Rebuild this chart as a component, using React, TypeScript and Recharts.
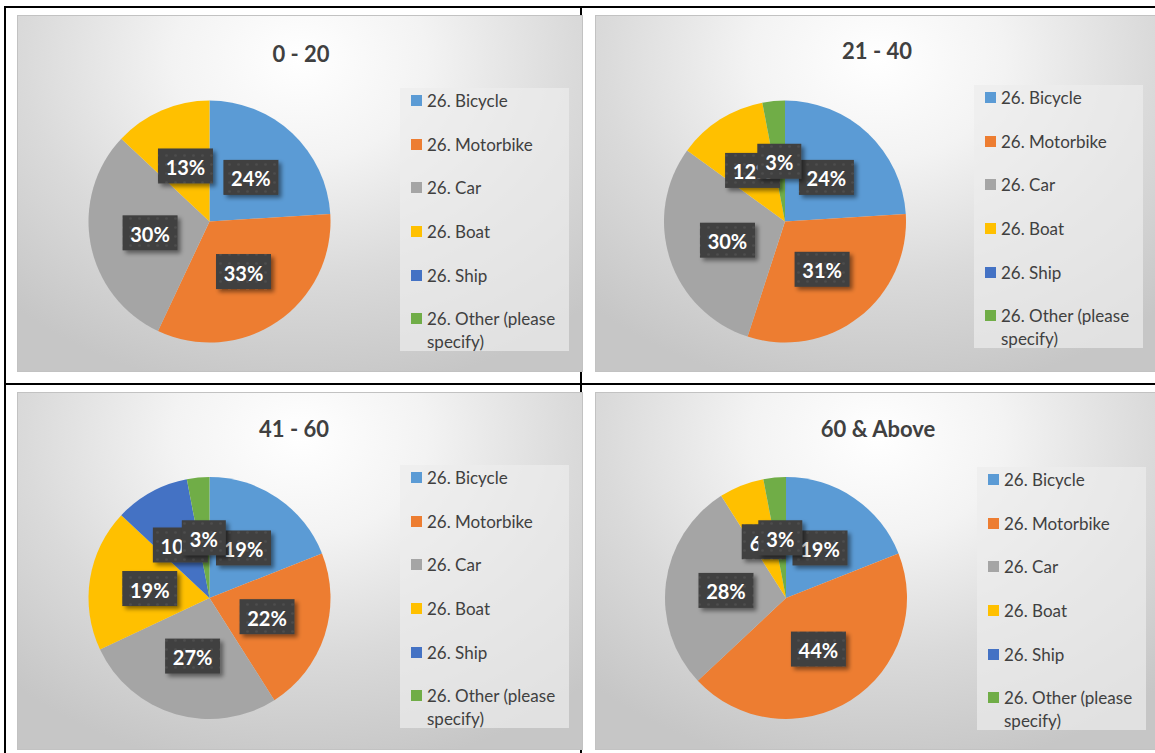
import { PieChart, Pie, Cell, Legend } from "recharts";

const categories = [
  "26. Bicycle",
  "26. Motorbike",
  "26. Car",
  "26. Boat",
  "26. Ship",
  "26. Other (please specify)",
];
const sliceColors = ["#5B9BD5", "#ED7D31", "#A5A5A5", "#FFC000", "#4472C4", "#70AD47"];

const age0to20 = [24, 33, 30, 13, 0, 0];
const age21to40 = [24, 31, 30, 12, 0, 3];
const age41to60 = [19, 22, 27, 19, 10, 3];
const age60plus = [19, 44, 28, 6, 0, 3];
const titles = ["0 - 20", "21 - 40", "41 - 60", "60 & Above"];
const groups = [age0to20, age21to40, age41to60, age60plus];

const FONT = "Lato, 'Open Sans', sans-serif";
const RAD = Math.PI / 180;

// panel placement on the page (table cells of the source document)
const panels = [
  { left: 17, top: 15, w: 566, h: 357, cx: 191.5, cy: 205.5, titleX: 283, titleY: 38, lgLeft: 382, lgTop: 72 },
  { left: 595, top: 15, w: 566, h: 357, cx: 189, cy: 205.5, titleX: 281, titleY: 35, lgLeft: 378, lgTop: 69 },
  { left: 17, top: 392, w: 566, h: 358, cx: 191.5, cy: 205, titleX: 276, titleY: 36, lgLeft: 382, lgTop: 72 },
  { left: 595, top: 392, w: 566, h: 358, cx: 190, cy: 205, titleX: 282, titleY: 36, lgLeft: 381, lgTop: 74 },
];

function renderLabel(props: any) {
  const { cx, cy, midAngle, outerRadius, value } = props;
  if (!value) return null;
  const r = outerRadius * 0.5;
  const x = cx + r * Math.cos(-midAngle * RAD);
  const y = cy + r * Math.sin(-midAngle * RAD);
  const text = `${value}%`;
  const w = text.length * 11 + 22;
  const h = 35;
  return (
    <g>
      <rect x={x - w / 2} y={y - h / 2} width={w} height={h} fill="url(#lblDots)" filter="url(#lblShadow)" />
      <text
        x={x}
        y={y + 1}
        textAnchor="middle"
        dominantBaseline="central"
        fill="#ffffff"
        fontFamily={FONT}
        fontWeight={700}
        fontSize={20}
      >
        {text}
      </text>
    </g>
  );
}

// legend keeps the series order of the source (Recharts would sort it by name)
function LegendBox() {
  return (
    <div
      style={{
        width: 169,
        height: 263,
        background: "rgba(236,236,236,0.7)",
        boxSizing: "border-box",
        paddingLeft: 11,
        paddingTop: 1,
        fontFamily: FONT,
        fontSize: 17,
        color: "#404040",
      }}
    >
      {categories.map((c, i) => (
        <div key={c} style={{ display: "flex", alignItems: "flex-start", height: 43.7, lineHeight: "23px" }}>
          <span
            style={{
              display: "inline-block",
              width: 11,
              height: 11,
              background: sliceColors[i],
              marginTop: 6,
              marginRight: 5,
              flex: "none",
            }}
          />
          <span style={{ width: 140 }}>{c}</span>
        </div>
      ))}
    </div>
  );
}

function AgePie({ idx }: { idx: number }) {
  const p = panels[idx];
  const data = categories.map((name, i) => ({ name, value: groups[idx][i] }));
  return (
    <div
      style={{
        position: "absolute",
        left: p.left,
        top: p.top,
        width: p.w,
        height: p.h,
        boxSizing: "border-box",
        border: "1px solid #c2c2c2",
        background:
          "radial-gradient(ellipse 75% 95% at 50% 12%, #ffffff 0%, #f3f3f3 30%, #dadada 65%, #c6c6c6 100%)",
      }}
    >
      <div
        style={{
          position: "absolute",
          left: p.titleX - 150,
          top: p.titleY - 14,
          width: 300,
          textAlign: "center",
          fontFamily: FONT,
          fontWeight: 700,
          fontSize: 22,
          lineHeight: "28px",
          color: "#404040",
        }}
      >
        {titles[idx]}
      </div>
      <PieChart width={p.w} height={p.h} margin={{ top: 0, right: 0, bottom: 0, left: 0 }}>
        <Pie
          data={data}
          dataKey="value"
          nameKey="name"
          cx={p.cx}
          cy={p.cy}
          outerRadius={121}
          startAngle={90}
          endAngle={-270}
          stroke="none"
          labelLine={false}
          label={renderLabel}
          isAnimationActive={false}
        >
          {data.map((d, i) => (
            <Cell key={d.name} fill={sliceColors[i]} />
          ))}
        </Pie>
        <Legend
          layout="vertical"
          content={<LegendBox />}
          wrapperStyle={{ position: "absolute", left: p.lgLeft, top: p.lgTop, width: 169, height: 263 }}
        />
      </PieChart>
    </div>
  );
}

export default function App() {
  const line = "#000000";
  return (
    <div style={{ position: "absolute", left: 0, top: 0, width: 1155, height: 753, background: "#ffffff", overflow: "hidden" }}>
      <svg width={0} height={0} style={{ position: "absolute" }}>
        <defs>
          <pattern id="lblDots" width={9} height={9} patternUnits="userSpaceOnUse">
            <rect width={9} height={9} fill="#3f3f3f" />
            <circle cx={4.5} cy={4.5} r={1.3} fill="#4e4e4e" />
          </pattern>
          <filter id="lblShadow" x="-30%" y="-30%" width="160%" height="170%">
            <feDropShadow dx={3} dy={3} stdDeviation={2.2} floodColor="#000000" floodOpacity={0.45} />
          </filter>
        </defs>
      </svg>
      {/* table rules */}
      <div style={{ position: "absolute", left: 4, top: 6, width: 1151, height: 2, background: line }} />
      <div style={{ position: "absolute", left: 4, top: 383, width: 1151, height: 2, background: line }} />
      <div style={{ position: "absolute", left: 4, top: 6, width: 2, height: 747, background: line }} />
      <div style={{ position: "absolute", left: 580, top: 6, width: 2, height: 747, background: line }} />
      {panels.map((_, i) => (
        <AgePie key={i} idx={i} />
      ))}
    </div>
  );
}
